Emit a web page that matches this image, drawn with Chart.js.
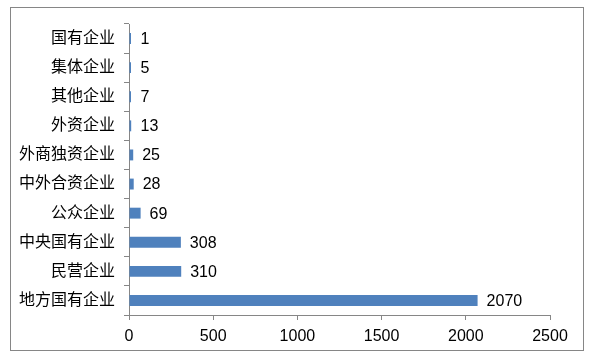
<!DOCTYPE html>
<html>
<head>
<meta charset="utf-8">
<script src="https://cdn.jsdelivr.net/npm/chart.js@4"></script>
<style>
  body { margin: 0; background: #fff; }
  #wrap { position: relative; width: 595px; height: 361px; }
  #frame { position: absolute; left: 10px; top: 7px; width: 574px; height: 344px; border: 1px solid #868686; box-sizing: border-box; pointer-events: none; }
</style>
</head>
<body>
<div id="wrap">
  <canvas id="chart" width="595" height="361"></canvas>
  <div id="frame"></div>
</div>
<script>
const categories = ['国有企业', '集体企业', '其他企业', '外资企业', '外商独资企业', '中外合资企业', '公众企业', '中央国有企业', '民营企业', '地方国有企业'];
const counts = [1, 5, 7, 13, 25, 28, 69, 308, 310, 2070];
const xTicks = [0, 500, 1000, 1500, 2000, 2500];

const fontFamily = '"Liberation Sans", Arial, "Noto Sans CJK SC", sans-serif';
const axisGray = '#868686';

// labels at the end of each bar
const valueLabels = {
    id: 'valueLabels',
    afterDatasetsDraw(chart) {
        const ctx = chart.ctx;
        const meta = chart.getDatasetMeta(0);
        ctx.save();
        ctx.font = '16px ' + fontFamily;
        ctx.fillStyle = '#000';
        ctx.textBaseline = 'middle';
        ctx.textAlign = 'left';
        meta.data.forEach((bar, i) => {
            const x = Math.max(bar.x, bar.base + 2);
            ctx.fillText(String(counts[i]), x + 9, bar.y + 1);
        });
        ctx.restore();
    }
};

new Chart(document.getElementById('chart'), {
    type: 'bar',
    data: {
        labels: categories,
        datasets: [{
            data: counts,
            backgroundColor: '#4F81BD',
            borderWidth: 0,
            minBarLength: 2,
            barPercentage: 0.75,
            categoryPercentage: 0.5
        }]
    },
    options: {
        indexAxis: 'y',
        responsive: false,
        animation: false,
        layout: { padding: { left: 0, right: 45, top: 24, bottom: 14 } },
        plugins: {
            legend: { display: false },
            tooltip: { enabled: false }
        },
        scales: {
            x: {
                min: 0,
                max: 2500,
                afterBuildTicks: (scale) => { scale.ticks = xTicks.map(v => ({ value: v })); },
                afterFit: (scale) => { scale.height = 32; },
                grid: { drawOnChartArea: false, tickLength: 5, color: axisGray },
                border: { color: axisGray },
                ticks: {
                    color: '#000',
                    font: { family: fontFamily, size: 16 },
                    padding: 7,
                    maxRotation: 0,
                    callback: (v) => String(v)
                }
            },
            y: {
                afterFit: (scale) => { scale.width = 129; },
                grid: { drawOnChartArea: false, tickLength: 5, color: axisGray, offset: true },
                border: { color: axisGray },
                ticks: { color: '#000', font: { family: fontFamily, size: 16 }, padding: 9 }
            }
        }
    },
    plugins: [valueLabels]
});
</script>
</body>
</html>
